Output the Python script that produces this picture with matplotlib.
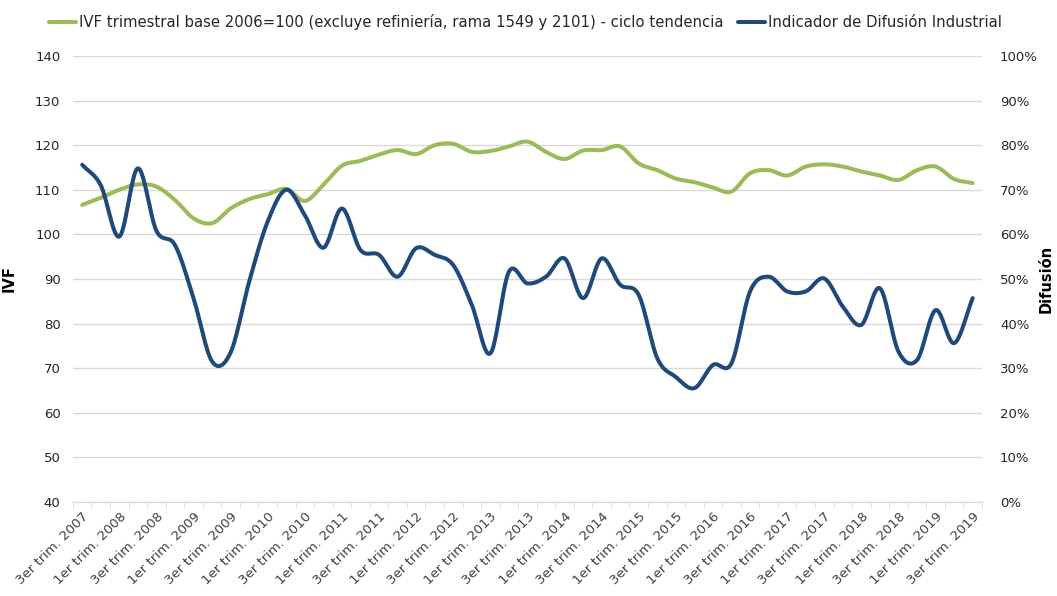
import numpy as np
import matplotlib
matplotlib.use("Agg")
import matplotlib.pyplot as plt
from matplotlib.ticker import FixedLocator

# ---- data ----
years = list(range(2007, 2020))
quarters = []
for y in years:
    for q in (1, 2, 3, 4):
        if (y == 2007 and q < 3) or (y == 2019 and q > 3):
            continue
        quarters.append((q, y))
qnames = {1: "1er", 2: "2do", 3: "3er", 4: "4to"}
tick_labels = [f"{qnames[q]} trim. {y}" for q, y in quarters]

ivf = [106.6, 108.2, 110.0, 111.2, 110.7, 107.7, 103.6, 102.5, 105.8, 107.9,
       109.0, 110.2, 107.5, 111.1, 115.4, 116.5, 117.9, 118.9, 118.0, 120.0,
       120.3, 118.5, 118.7, 119.7, 120.8, 118.5, 116.9, 118.8, 118.9, 119.7,
       115.9, 114.4, 112.5, 111.7, 110.5, 109.6, 113.7, 114.4, 113.2, 115.2,
       115.7, 115.2, 114.1, 113.2, 112.2, 114.4, 115.2, 112.4, 111.5]

difusion = [75.6, 71.0, 59.5, 74.8, 60.8, 57.6, 45.7, 31.5, 33.5, 49.4,
            62.9, 70.0, 64.3, 57.0, 65.8, 56.5, 55.4, 50.5, 56.9, 55.4,
            53.1, 44.2, 33.3, 51.6, 49.0, 50.5, 54.6, 45.7, 54.6, 48.7,
            46.4, 32.2, 28.0, 25.5, 30.7, 31.1, 47.2, 50.5, 47.2, 47.2,
            50.1, 43.8, 39.7, 47.9, 33.7, 31.8, 43.0, 35.6, 45.7]

label_ivf = "IVF trimestral base 2006=100 (excluye refiniería, rama 1549 y 2101) - ciclo tendencia"
label_dif = "Indicador de Difusión Industrial"

GREEN = "#9BBB59"
BLUE = "#1F497D"


def catmull_rom(x, y, n=24):
    x = np.asarray(x, float)
    y = np.asarray(y, float)
    px = np.concatenate([[2 * x[0] - x[1]], x, [2 * x[-1] - x[-2]]])
    py = np.concatenate([[2 * y[0] - y[1]], y, [2 * y[-1] - y[-2]]])
    xs, ys = [], []
    t = np.linspace(0, 1, n, endpoint=False)
    for i in range(1, len(px) - 2):
        f = lambda a0, a1, a2, a3: 0.5 * ((2 * a1) + (-a0 + a2) * t +
                                          (2 * a0 - 5 * a1 + 4 * a2 - a3) * t ** 2 +
                                          (-a0 + 3 * a1 - 3 * a2 + a3) * t ** 3)
        xs.append(f(px[i - 1], px[i], px[i + 1], px[i + 2]))
        ys.append(f(py[i - 1], py[i], py[i + 1], py[i + 2]))
    xs.append([x[-1]])
    ys.append([y[-1]])
    return np.concatenate(xs), np.concatenate(ys)


plt.rcParams['font.family'] = ['DejaVu Sans']
fig = plt.figure(figsize=(10.57, 5.96), dpi=100)
ax = fig.add_axes([0.069, 0.158, 0.860, 0.748])
ax2 = ax.twinx()

xidx = np.arange(len(tick_labels))
sx, sy = catmull_rom(xidx, ivf)
l1, = ax.plot(sx, sy, color=GREEN, lw=2.9, solid_capstyle='round', label=label_ivf)
dx, dy = catmull_rom(xidx, difusion)
l2, = ax2.plot(dx, dy, color=BLUE, lw=2.9, solid_capstyle='round', label=label_dif)

ax.set_xlim(-0.5, len(tick_labels) - 0.5)
ax.set_ylim(40, 140)
ax2.set_ylim(0, 100)
ax.set_yticks(np.arange(40, 141, 10))
ax2.set_yticks(np.arange(0, 101, 10))
ax2.set_yticklabels([f"{v}%" for v in range(0, 101, 10)])

ax.grid(axis='y', color='#D9D9D9', lw=1)
ax.set_axisbelow(True)

ax.set_xticks(xidx[::2])
ax.set_xticklabels(tick_labels[::2], rotation=45, ha='right', rotation_mode='anchor',
                   fontsize=9.5, color='#404040')
ax.xaxis.set_minor_locator(FixedLocator(np.arange(-0.5, len(tick_labels), 1)))
ax.tick_params(axis='x', which='major', length=0, pad=6)
ax.tick_params(axis='x', which='minor', length=4, color='#D9D9D9')

for a in (ax, ax2):
    for s in ('top', 'left', 'right'):
        a.spines[s].set_visible(False)
    a.spines['bottom'].set_color('#D9D9D9')
ax.tick_params(axis='y', length=0, labelsize=9.5, pad=9, labelcolor='#262626')
ax2.tick_params(axis='y', length=0, labelsize=9.5, pad=13, labelcolor='#262626')

ax.set_ylabel("IVF", fontsize=10.5, fontweight='bold')
ax.yaxis.set_label_coords(-0.062, 0.5)
ax2.set_ylabel("Difusión", fontsize=10.5, fontweight='bold', rotation=90)
ax2.yaxis.set_label_coords(1.062, 0.5)

fig.legend(handles=[l1, l2], loc='center', bbox_to_anchor=(0.497, 0.963), ncol=2,
           frameon=False, fontsize=10.7, handlelength=1.8, handletextpad=0.2,
           columnspacing=1.0, labelcolor='#262626')

fig.savefig("out.png", dpi=100)
